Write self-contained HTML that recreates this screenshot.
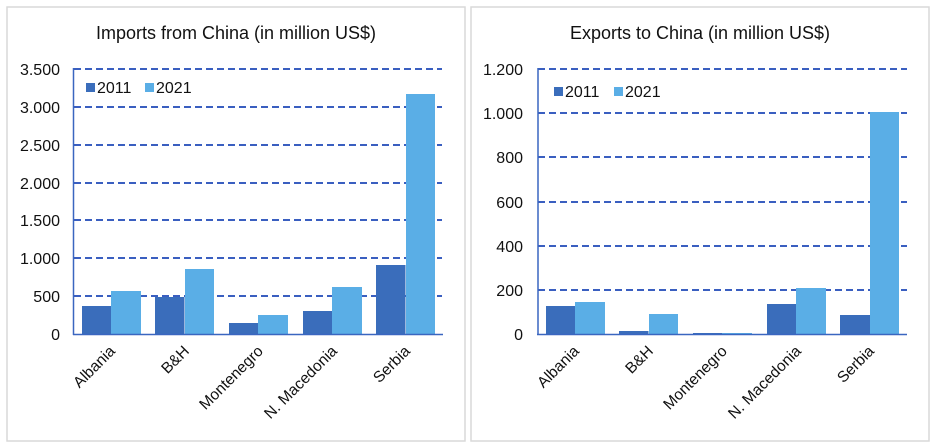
<!DOCTYPE html>
<html><head><style>body{margin:0;background:#fff}svg{display:block;font-family:"Liberation Sans",Arial,sans-serif}</style></head><body>
<svg width="936" height="446" viewBox="0 0 936 446">
<rect x="7" y="7" width="458" height="434" fill="#fff" stroke="#d9d9d9" stroke-width="1.5"/>
<rect x="471" y="7" width="458" height="434" fill="#fff" stroke="#d9d9d9" stroke-width="1.5"/>
<g>
<text x="236" y="39" font-size="18" text-anchor="middle" fill="#111">Imports from China (in million US$)</text>
<g stroke="#3a5fc0" stroke-width="2" stroke-dasharray="7,4">
<line x1="74" x2="442" y1="69" y2="69"/><line x1="74" x2="442" y1="107" y2="107"/><line x1="74" x2="442" y1="145" y2="145"/><line x1="74" x2="442" y1="183" y2="183"/><line x1="74" x2="442" y1="220" y2="220"/><line x1="74" x2="442" y1="258" y2="258"/><line x1="74" x2="442" y1="296" y2="296"/>
</g>
<g font-size="16" fill="#111" text-anchor="end">
<text x="60" y="75">3.500</text><text x="60" y="113">3.000</text><text x="60" y="151">2.500</text><text x="60" y="189">2.000</text><text x="60" y="226">1.500</text><text x="60" y="264">1.000</text><text x="60" y="302">500</text><text x="60" y="340">0</text>
</g>
<g fill="#3a6dbb"><rect x="82" y="306" width="29.5" height="28"/><rect x="155" y="297" width="29.5" height="37"/><rect x="229" y="323" width="29.5" height="11"/><rect x="303" y="311" width="29.5" height="23"/><rect x="376" y="265" width="29.5" height="69"/></g>
<g fill="#5aaee6"><rect x="111" y="291" width="30" height="43"/><rect x="185" y="269" width="29" height="65"/><rect x="258" y="315" width="30" height="19"/><rect x="332" y="287" width="30" height="47"/><rect x="406" y="94" width="29" height="240"/></g>
<line x1="73.5" y1="68" x2="73.5" y2="335" stroke="#3a66c0" stroke-width="1.5"/>
<line x1="73" y1="334.5" x2="443" y2="334.5" stroke="#3a66c0" stroke-width="1.5"/>
<rect x="86" y="83" width="9" height="9" fill="#3a6dbb"/><text x="97" y="93" font-size="16" fill="#111">2011</text>
<rect x="145" y="83" width="9" height="9" fill="#5aaee6"/><text x="156" y="93" font-size="16" fill="#111">2021</text>
<g font-size="15.5" fill="#111" text-anchor="end">
<text transform="translate(116,352) rotate(-45)">Albania</text>
<text transform="translate(190,352) rotate(-45)">B&amp;H</text>
<text transform="translate(264,352) rotate(-45)">Montenegro</text>
<text transform="translate(338,352) rotate(-45)">N. Macedonia</text>
<text transform="translate(411,352) rotate(-45)">Serbia</text>
</g>
</g>
<g>
<text x="700" y="39" font-size="18" text-anchor="middle" fill="#111">Exports to China (in million US$)</text>
<g stroke="#3a5fc0" stroke-width="2" stroke-dasharray="7,4">
<line x1="538" x2="907" y1="69" y2="69"/><line x1="538" x2="907" y1="113" y2="113"/><line x1="538" x2="907" y1="157" y2="157"/><line x1="538" x2="907" y1="202" y2="202"/><line x1="538" x2="907" y1="246" y2="246"/><line x1="538" x2="907" y1="290" y2="290"/>
</g>
<g font-size="16" fill="#111" text-anchor="end">
<text x="523" y="75">1.200</text><text x="523" y="119">1.000</text><text x="523" y="163">800</text><text x="523" y="208">600</text><text x="523" y="252">400</text><text x="523" y="296">200</text><text x="523" y="340">0</text>
</g>
<g fill="#3a6dbb"><rect x="546" y="306" width="29.5" height="28"/><rect x="619" y="331" width="29.5" height="3"/><rect x="693" y="333" width="29.5" height="1"/><rect x="767" y="304" width="29.5" height="30"/><rect x="840" y="315" width="30" height="19"/></g>
<g fill="#5aaee6"><rect x="575" y="302" width="30" height="32"/><rect x="649" y="314" width="29" height="20"/><rect x="722" y="333" width="30" height="1"/><rect x="796" y="288" width="30" height="46"/><rect x="870" y="112" width="29" height="222"/></g>
<line x1="538" y1="68" x2="538" y2="335" stroke="#3a66c0" stroke-width="1.5"/>
<line x1="537" y1="334.5" x2="907" y2="334.5" stroke="#3a66c0" stroke-width="1.5"/>
<rect x="554" y="87" width="9" height="9" fill="#3a6dbb"/><text x="565" y="97" font-size="16" fill="#111">2011</text>
<rect x="614" y="87" width="9" height="9" fill="#5aaee6"/><text x="625" y="97" font-size="16" fill="#111">2021</text>
<g font-size="15.5" fill="#111" text-anchor="end">
<text transform="translate(580,352) rotate(-45)">Albania</text>
<text transform="translate(654,352) rotate(-45)">B&amp;H</text>
<text transform="translate(728,352) rotate(-45)">Montenegro</text>
<text transform="translate(802,352) rotate(-45)">N. Macedonia</text>
<text transform="translate(875,352) rotate(-45)">Serbia</text>
</g>
</g>
</svg>
</body></html>
